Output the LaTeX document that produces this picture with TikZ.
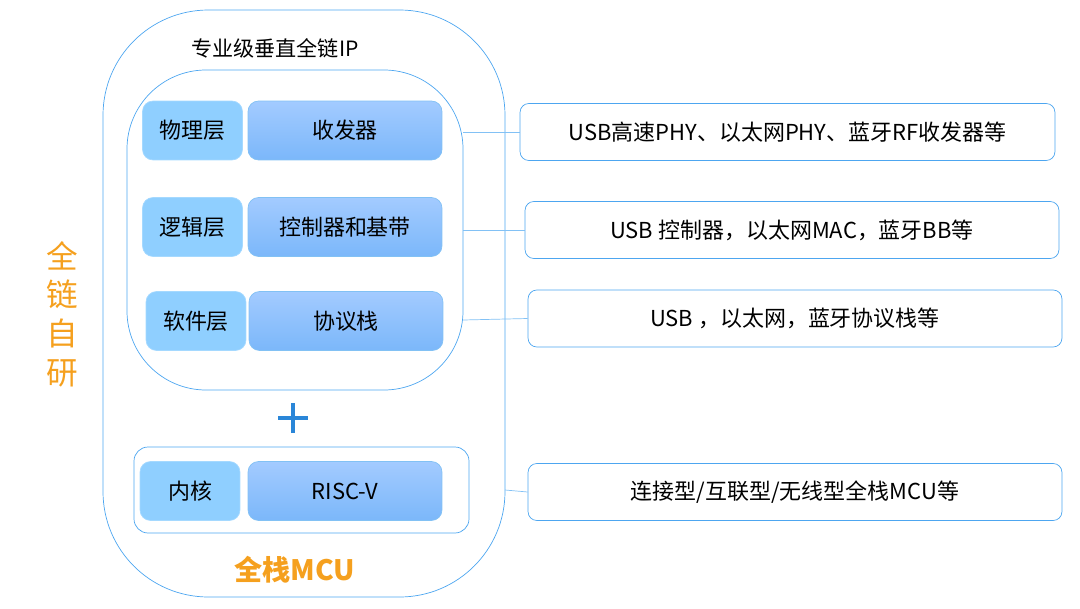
\documentclass[tikz,border=0pt]{standalone}
\usepackage{fontspec}
\setmainfont{Noto Sans CJK SC}
\usetikzlibrary{positioning}
\definecolor{edgeblue}{HTML}{4DA6F0}
\definecolor{layerblue}{HTML}{8FCFFF}
\definecolor{topblue}{HTML}{A3CBFF}
\definecolor{botblue}{HTML}{7BB7FA}
\definecolor{mcuorange}{HTML}{F5A01E}
\definecolor{plusblue}{HTML}{2A86D8}
\tikzset{
  layer/.style={draw=layerblue!80!white, fill=layerblue, rounded corners=6pt, minimum width=2.0cm, minimum height=1.18cm, font=\fontsize{12.5}{14}\selectfont, inner sep=0pt},
  block/.style={draw=edgeblue!70!white, top color=topblue, bottom color=botblue, rounded corners=6pt, minimum width=3.88cm, minimum height=1.18cm, font=\fontsize{12.5}{14}\selectfont, inner sep=0pt},
  note/.style={draw=edgeblue, fill=white, rounded corners=5pt, minimum height=1.14cm, font=\fontsize{12.5}{14}\selectfont, inner sep=0pt},
  link/.style={edgeblue!70!white, thin}
}
\begin{document}
\begin{tikzpicture}[x=0.02cm, y=-0.02cm]
            \useasboundingbox (0,0) rectangle (1080,609);

            \draw[edgeblue, rounded corners=60pt] (103,10) rectangle (505,597);
            \node (title) at (275,48) {\fontsize{12}{14}\selectfont 专业级垂直全链IP};
            \draw[edgeblue, rounded corners=45pt] (127,70) rectangle (463,390);
            \draw[edgeblue, rounded corners=8pt] (134,447) rectangle (469,533);

            \node[layer] (phy) at (192.5,130.5) {物理层};
            \node[block] (trx) at (345,130.5) {收发器};
            \node[layer] (mac) at (192.5,227) {逻辑层};
            \node[block] (ctl) at (345,227) {控制器和基带};
            \node[layer] (sw) at (196,321) {软件层};
            \node[block] (stk) at (346,321) {协议栈};
            \node[layer] (core) at (190,491) {内核};
            \node[block] (risc) at (345,491) {RISC-V};

            % plus sign
            \coordinate (p0) at (293,418);
            \draw[plusblue, line width=2.2pt] ([xshift=-0.3cm]p0) -- ([xshift=0.3cm]p0)
                ([yshift=-0.3cm]p0) -- ([yshift=0.3cm]p0);
            \node[text=mcuorange, font=\bfseries\fontsize{16}{18}\selectfont] (mcu) at (295,570) {全栈MCU};
            \node[text=mcuorange, font=\fontsize{18}{22}\selectfont, align=center] (self) at (62,314) {全\\链\\自\\研};

            \node[note, minimum width=10.7cm] (n1) at (787.5,132) {USB高速PHY、以太网PHY、蓝牙RF收发器等};
            \node[note, minimum width=10.68cm] (n2) at (792,230) {USB 控制器，以太网MAC，蓝牙BB等};
            \node[note, minimum width=10.68cm] (n3) at (795,318.5) {USB ，以太网，蓝牙协议栈等};
            \node[note, minimum width=10.68cm] (n4) at (795,492) {连接型/互联型/无线型全栈MCU等};

            \coordinate (e1) at (463,132);
            \coordinate (e2) at (463,230);
            \coordinate (e3) at (463,320);
            \coordinate (e4) at (505,490);
            \draw[link] (e1) -- (n1.west);
            \draw[link] (e2) -- (n2.west);
            \draw[link] (e3) -- (n3.west);
            \draw[link] (e4) -- (n4.west);
\end{tikzpicture}
\end{document}
